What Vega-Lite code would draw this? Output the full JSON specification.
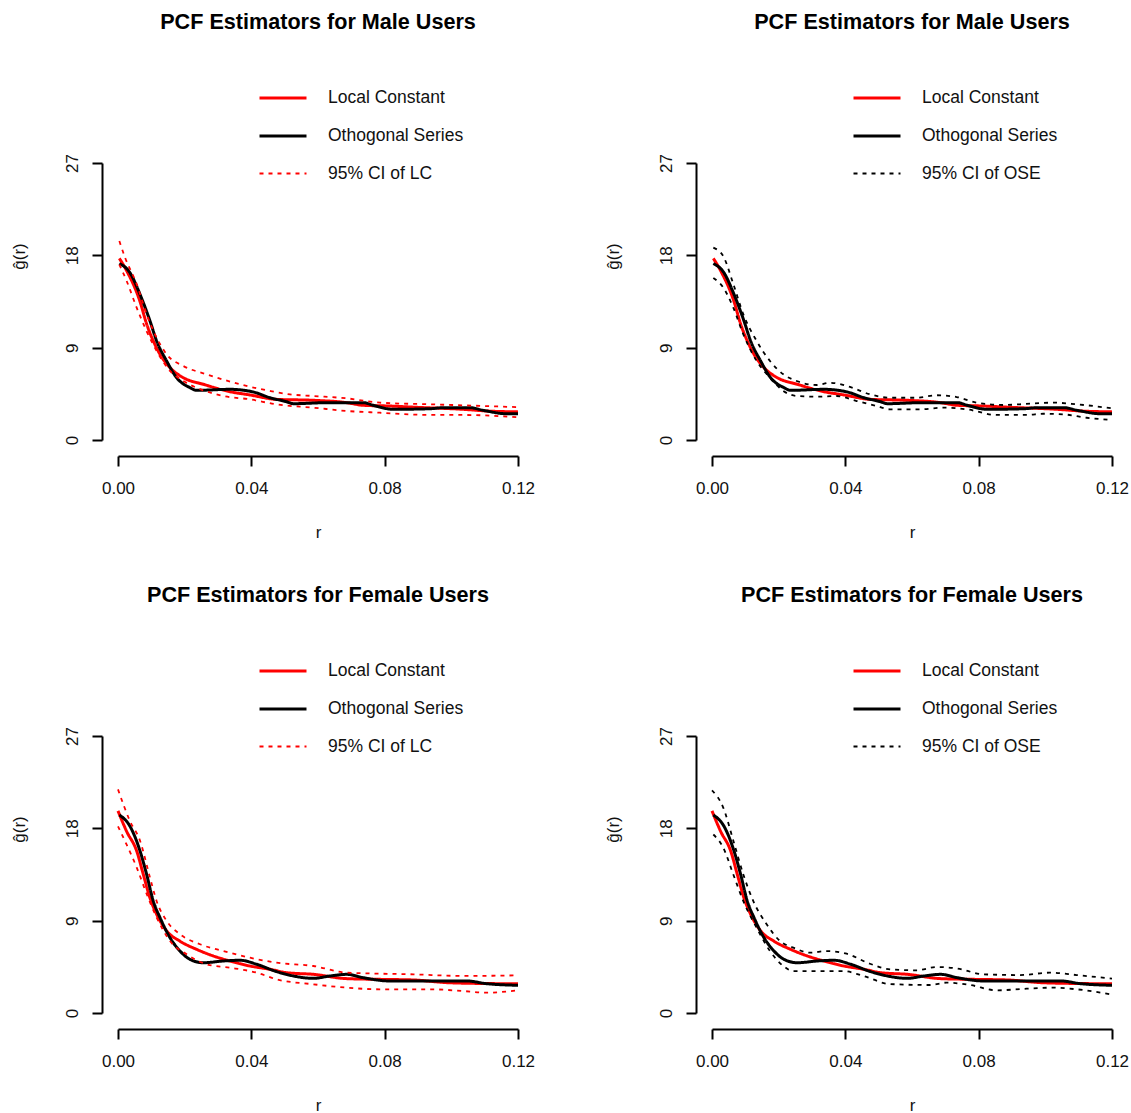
{
"$schema": "https://vega.github.io/schema/vega-lite/v6.json",
"background": "white",
"padding": {"left": 10, "top": 12, "right": 0, "bottom": 0},
"config": {
  "view": {"stroke": null},
  "font": "Liberation Sans",
  "title": {"font": "Liberation Sans", "fontSize": 21.6, "fontWeight": "bold", "color": "black", "anchor": "middle", "frame": "group", "offset": 39},
  "axis": {"domainColor": "black", "domainWidth": 2, "tickColor": "black", "tickWidth": 2, "tickSize": 10, "labelFont": "Liberation Sans", "labelFontSize": 17, "labelColor": "#111111", "titleFont": "Liberation Sans", "titleFontSize": 17, "titleFontWeight": "normal", "titleColor": "#111111", "grid": false, "offset": 16, "labelFlush": false, "labelOverlap": false},
  "axisX": {"labelPadding": 14, "titleY": 81, "titleBaseline": "alphabetic"},
  "axisY": {"labelAngle": 270, "labelAlign": "center", "labelBaseline": "bottom", "labelPadding": 11, "titleX": -83, "titleY": 93, "titleAngle": 270, "titleAlign": "center", "titleBaseline": "middle"},
  "legend": {"title": null, "orient": "none", "legendX": 140, "legendY": -90, "labelFont": "Liberation Sans", "labelFontSize": 17.5, "labelColor": "#111111", "symbolType": "stroke", "symbolSize": 2209, "labelOffset": 20, "rowPadding": 4}
},
"data": {"values": [
{"p":"M","s":"Local Constant","b":"est","r":0.0004,"g":17.7},{"p":"M","s":"Local Constant","b":"est","r":0.0026,"g":16.5},{"p":"M","s":"Local Constant","b":"est","r":0.0066,"g":13.5},{"p":"M","s":"Local Constant","b":"est","r":0.0086,"g":11.3},{"p":"M","s":"Local Constant","b":"est","r":0.0106,"g":9.65},{"p":"M","s":"Local Constant","b":"est","r":0.0126,"g":8.35},{"p":"M","s":"Local Constant","b":"est","r":0.0156,"g":7.05},{"p":"M","s":"Local Constant","b":"est","r":0.0196,"g":6.07},{"p":"M","s":"Local Constant","b":"est","r":0.0256,"g":5.43},{"p":"M","s":"Local Constant","b":"est","r":0.0336,"g":4.71},{"p":"M","s":"Local Constant","b":"est","r":0.0396,"g":4.39},{"p":"M","s":"Local Constant","b":"est","r":0.0476,"g":3.96},{"p":"M","s":"Local Constant","b":"est","r":0.0586,"g":3.87},{"p":"M","s":"Local Constant","b":"est","r":0.0686,"g":3.64},{"p":"M","s":"Local Constant","b":"est","r":0.0736,"g":3.38},{"p":"M","s":"Local Constant","b":"est","r":0.0816,"g":3.31},{"p":"M","s":"Local Constant","b":"est","r":0.0886,"g":3.2},{"p":"M","s":"Local Constant","b":"est","r":0.1036,"g":2.99},{"p":"M","s":"Local Constant","b":"est","r":0.1106,"g":2.83},{"p":"M","s":"Local Constant","b":"est","r":0.12,"g":2.74},
{"p":"M","s":"Othogonal Series","b":"est","r":0.0004,"g":17.2},{"p":"M","s":"Othogonal Series","b":"est","r":0.0036,"g":16.3},{"p":"M","s":"Othogonal Series","b":"est","r":0.0066,"g":14.2},{"p":"M","s":"Othogonal Series","b":"est","r":0.0096,"g":11.6},{"p":"M","s":"Othogonal Series","b":"est","r":0.0116,"g":9.65},{"p":"M","s":"Othogonal Series","b":"est","r":0.0146,"g":7.7},{"p":"M","s":"Othogonal Series","b":"est","r":0.0176,"g":6.07},{"p":"M","s":"Othogonal Series","b":"est","r":0.0216,"g":5.1},{"p":"M","s":"Othogonal Series","b":"est","r":0.0236,"g":4.84},{"p":"M","s":"Othogonal Series","b":"est","r":0.0336,"g":4.94},{"p":"M","s":"Othogonal Series","b":"est","r":0.0406,"g":4.68},{"p":"M","s":"Othogonal Series","b":"est","r":0.0456,"g":4.12},{"p":"M","s":"Othogonal Series","b":"est","r":0.0506,"g":3.73},{"p":"M","s":"Othogonal Series","b":"est","r":0.0526,"g":3.54},{"p":"M","s":"Othogonal Series","b":"est","r":0.0631,"g":3.64},{"p":"M","s":"Othogonal Series","b":"est","r":0.0736,"g":3.64},{"p":"M","s":"Othogonal Series","b":"est","r":0.0766,"g":3.38},{"p":"M","s":"Othogonal Series","b":"est","r":0.0826,"g":2.99},{"p":"M","s":"Othogonal Series","b":"est","r":0.0936,"g":3.05},{"p":"M","s":"Othogonal Series","b":"est","r":0.0976,"g":3.15},{"p":"M","s":"Othogonal Series","b":"est","r":0.1056,"g":3.15},{"p":"M","s":"Othogonal Series","b":"est","r":0.1096,"g":2.89},{"p":"M","s":"Othogonal Series","b":"est","r":0.1166,"g":2.56},{"p":"M","s":"Othogonal Series","b":"est","r":0.12,"g":2.56},
{"p":"M","s":"95% CI of LC","b":"hi","r":0.0004,"g":19.4},{"p":"M","s":"95% CI of LC","b":"hi","r":0.0021,"g":17.8},{"p":"M","s":"95% CI of LC","b":"hi","r":0.0056,"g":15.2},{"p":"M","s":"95% CI of LC","b":"hi","r":0.0086,"g":12.25},{"p":"M","s":"95% CI of LC","b":"hi","r":0.0116,"g":9.97},{"p":"M","s":"95% CI of LC","b":"hi","r":0.0146,"g":8.35},{"p":"M","s":"95% CI of LC","b":"hi","r":0.0196,"g":7.21},{"p":"M","s":"95% CI of LC","b":"hi","r":0.0266,"g":6.4},{"p":"M","s":"95% CI of LC","b":"hi","r":0.0366,"g":5.43},{"p":"M","s":"95% CI of LC","b":"hi","r":0.0456,"g":4.78},{"p":"M","s":"95% CI of LC","b":"hi","r":0.0516,"g":4.45},{"p":"M","s":"95% CI of LC","b":"hi","r":0.0586,"g":4.29},{"p":"M","s":"95% CI of LC","b":"hi","r":0.0686,"g":4.06},{"p":"M","s":"95% CI of LC","b":"hi","r":0.0786,"g":3.64},{"p":"M","s":"95% CI of LC","b":"hi","r":0.0936,"g":3.48},{"p":"M","s":"95% CI of LC","b":"hi","r":0.1036,"g":3.38},{"p":"M","s":"95% CI of LC","b":"hi","r":0.12,"g":3.2},
{"p":"M","s":"95% CI of LC","b":"lo","r":0.0004,"g":17.1},{"p":"M","s":"95% CI of LC","b":"lo","r":0.0026,"g":15.5},{"p":"M","s":"95% CI of LC","b":"lo","r":0.0056,"g":12.9},{"p":"M","s":"95% CI of LC","b":"lo","r":0.0086,"g":10.6},{"p":"M","s":"95% CI of LC","b":"lo","r":0.0116,"g":8.67},{"p":"M","s":"95% CI of LC","b":"lo","r":0.0156,"g":6.73},{"p":"M","s":"95% CI of LC","b":"lo","r":0.0196,"g":5.75},{"p":"M","s":"95% CI of LC","b":"lo","r":0.0256,"g":4.84},{"p":"M","s":"95% CI of LC","b":"lo","r":0.0316,"g":4.29},{"p":"M","s":"95% CI of LC","b":"lo","r":0.0396,"g":3.96},{"p":"M","s":"95% CI of LC","b":"lo","r":0.0476,"g":3.47},{"p":"M","s":"95% CI of LC","b":"lo","r":0.0586,"g":3.15},{"p":"M","s":"95% CI of LC","b":"lo","r":0.0686,"g":2.83},{"p":"M","s":"95% CI of LC","b":"lo","r":0.0786,"g":2.66},{"p":"M","s":"95% CI of LC","b":"lo","r":0.0936,"g":2.44},{"p":"M","s":"95% CI of LC","b":"lo","r":0.1036,"g":2.44},{"p":"M","s":"95% CI of LC","b":"lo","r":0.12,"g":2.22},
{"p":"M","s":"95% CI of OSE","b":"hi","r":0.0004,"g":18.75},{"p":"M","s":"95% CI of OSE","b":"hi","r":0.0034,"g":17.9},{"p":"M","s":"95% CI of OSE","b":"hi","r":0.0064,"g":15.2},{"p":"M","s":"95% CI of OSE","b":"hi","r":0.0094,"g":12.25},{"p":"M","s":"95% CI of OSE","b":"hi","r":0.0134,"g":9.65},{"p":"M","s":"95% CI of OSE","b":"hi","r":0.0174,"g":7.7},{"p":"M","s":"95% CI of OSE","b":"hi","r":0.0214,"g":6.4},{"p":"M","s":"95% CI of OSE","b":"hi","r":0.0254,"g":5.75},{"p":"M","s":"95% CI of OSE","b":"hi","r":0.0314,"g":5.36},{"p":"M","s":"95% CI of OSE","b":"hi","r":0.0354,"g":5.58},{"p":"M","s":"95% CI of OSE","b":"hi","r":0.0414,"g":5.17},{"p":"M","s":"95% CI of OSE","b":"hi","r":0.0474,"g":4.45},{"p":"M","s":"95% CI of OSE","b":"hi","r":0.0534,"g":4.12},{"p":"M","s":"95% CI of OSE","b":"hi","r":0.0614,"g":4.12},{"p":"M","s":"95% CI of OSE","b":"hi","r":0.0674,"g":4.36},{"p":"M","s":"95% CI of OSE","b":"hi","r":0.0734,"g":4.19},{"p":"M","s":"95% CI of OSE","b":"hi","r":0.0794,"g":3.64},{"p":"M","s":"95% CI of OSE","b":"hi","r":0.0874,"g":3.41},{"p":"M","s":"95% CI of OSE","b":"hi","r":0.0924,"g":3.48},{"p":"M","s":"95% CI of OSE","b":"hi","r":0.1024,"g":3.64},{"p":"M","s":"95% CI of OSE","b":"hi","r":0.1094,"g":3.48},{"p":"M","s":"95% CI of OSE","b":"hi","r":0.12,"g":3.09},
{"p":"M","s":"95% CI of OSE","b":"lo","r":0.0004,"g":15.8},{"p":"M","s":"95% CI of OSE","b":"lo","r":0.0034,"g":14.85},{"p":"M","s":"95% CI of OSE","b":"lo","r":0.0064,"g":12.9},{"p":"M","s":"95% CI of OSE","b":"lo","r":0.0094,"g":10.3},{"p":"M","s":"95% CI of OSE","b":"lo","r":0.0134,"g":7.7},{"p":"M","s":"95% CI of OSE","b":"lo","r":0.0174,"g":6.07},{"p":"M","s":"95% CI of OSE","b":"lo","r":0.0214,"g":4.78},{"p":"M","s":"95% CI of OSE","b":"lo","r":0.0254,"g":4.29},{"p":"M","s":"95% CI of OSE","b":"lo","r":0.0314,"g":4.22},{"p":"M","s":"95% CI of OSE","b":"lo","r":0.0374,"g":4.29},{"p":"M","s":"95% CI of OSE","b":"lo","r":0.0434,"g":3.8},{"p":"M","s":"95% CI of OSE","b":"lo","r":0.0494,"g":3.31},{"p":"M","s":"95% CI of OSE","b":"lo","r":0.0534,"g":2.99},{"p":"M","s":"95% CI of OSE","b":"lo","r":0.0624,"g":2.99},{"p":"M","s":"95% CI of OSE","b":"lo","r":0.0694,"g":3.15},{"p":"M","s":"95% CI of OSE","b":"lo","r":0.0764,"g":2.99},{"p":"M","s":"95% CI of OSE","b":"lo","r":0.0854,"g":2.44},{"p":"M","s":"95% CI of OSE","b":"lo","r":0.0944,"g":2.44},{"p":"M","s":"95% CI of OSE","b":"lo","r":0.0994,"g":2.56},{"p":"M","s":"95% CI of OSE","b":"lo","r":0.1054,"g":2.5},{"p":"M","s":"95% CI of OSE","b":"lo","r":0.1124,"g":2.17},{"p":"M","s":"95% CI of OSE","b":"lo","r":0.12,"g":1.95},
{"p":"F","s":"Local Constant","b":"est","r":0.0,"g":19.7},{"p":"F","s":"Local Constant","b":"est","r":0.0026,"g":17.7},{"p":"F","s":"Local Constant","b":"est","r":0.0056,"g":15.8},{"p":"F","s":"Local Constant","b":"est","r":0.0076,"g":13.5},{"p":"F","s":"Local Constant","b":"est","r":0.0096,"g":11.2},{"p":"F","s":"Local Constant","b":"est","r":0.0116,"g":9.62},{"p":"F","s":"Local Constant","b":"est","r":0.0146,"g":8.0},{"p":"F","s":"Local Constant","b":"est","r":0.0186,"g":7.0},{"p":"F","s":"Local Constant","b":"est","r":0.0236,"g":6.2},{"p":"F","s":"Local Constant","b":"est","r":0.0286,"g":5.56},{"p":"F","s":"Local Constant","b":"est","r":0.0336,"g":5.07},{"p":"F","s":"Local Constant","b":"est","r":0.0396,"g":4.58},{"p":"F","s":"Local Constant","b":"est","r":0.0456,"g":4.26},{"p":"F","s":"Local Constant","b":"est","r":0.0506,"g":3.93},{"p":"F","s":"Local Constant","b":"est","r":0.0586,"g":3.77},{"p":"F","s":"Local Constant","b":"est","r":0.0686,"g":3.35},{"p":"F","s":"Local Constant","b":"est","r":0.0786,"g":3.28},{"p":"F","s":"Local Constant","b":"est","r":0.0886,"g":3.22},{"p":"F","s":"Local Constant","b":"est","r":0.0986,"g":2.96},{"p":"F","s":"Local Constant","b":"est","r":0.1066,"g":2.89},{"p":"F","s":"Local Constant","b":"est","r":0.12,"g":2.85},
{"p":"F","s":"Othogonal Series","b":"est","r":0.0004,"g":19.3},{"p":"F","s":"Othogonal Series","b":"est","r":0.0036,"g":18.2},{"p":"F","s":"Othogonal Series","b":"est","r":0.0066,"g":15.8},{"p":"F","s":"Othogonal Series","b":"est","r":0.0086,"g":13.5},{"p":"F","s":"Othogonal Series","b":"est","r":0.0106,"g":10.9},{"p":"F","s":"Othogonal Series","b":"est","r":0.0126,"g":9.3},{"p":"F","s":"Othogonal Series","b":"est","r":0.0156,"g":7.34},{"p":"F","s":"Othogonal Series","b":"est","r":0.0186,"g":6.04},{"p":"F","s":"Othogonal Series","b":"est","r":0.0216,"g":5.23},{"p":"F","s":"Othogonal Series","b":"est","r":0.0256,"g":4.9},{"p":"F","s":"Othogonal Series","b":"est","r":0.0316,"g":5.07},{"p":"F","s":"Othogonal Series","b":"est","r":0.0366,"g":5.14},{"p":"F","s":"Othogonal Series","b":"est","r":0.0416,"g":4.75},{"p":"F","s":"Othogonal Series","b":"est","r":0.0476,"g":4.03},{"p":"F","s":"Othogonal Series","b":"est","r":0.0526,"g":3.61},{"p":"F","s":"Othogonal Series","b":"est","r":0.0586,"g":3.38},{"p":"F","s":"Othogonal Series","b":"est","r":0.0636,"g":3.61},{"p":"F","s":"Othogonal Series","b":"est","r":0.0686,"g":3.77},{"p":"F","s":"Othogonal Series","b":"est","r":0.0736,"g":3.44},{"p":"F","s":"Othogonal Series","b":"est","r":0.0816,"g":3.12},{"p":"F","s":"Othogonal Series","b":"est","r":0.0936,"g":3.12},{"p":"F","s":"Othogonal Series","b":"est","r":0.1046,"g":3.12},{"p":"F","s":"Othogonal Series","b":"est","r":0.1106,"g":2.86},{"p":"F","s":"Othogonal Series","b":"est","r":0.12,"g":2.7},
{"p":"F","s":"95% CI of LC","b":"hi","r":0.0,"g":21.8},{"p":"F","s":"95% CI of LC","b":"hi","r":0.0036,"g":18.7},{"p":"F","s":"95% CI of LC","b":"hi","r":0.0066,"g":16.8},{"p":"F","s":"95% CI of LC","b":"hi","r":0.0096,"g":13.2},{"p":"F","s":"95% CI of LC","b":"hi","r":0.0116,"g":10.9},{"p":"F","s":"95% CI of LC","b":"hi","r":0.0146,"g":8.97},{"p":"F","s":"95% CI of LC","b":"hi","r":0.0186,"g":7.67},{"p":"F","s":"95% CI of LC","b":"hi","r":0.0246,"g":6.7},{"p":"F","s":"95% CI of LC","b":"hi","r":0.0316,"g":6.04},{"p":"F","s":"95% CI of LC","b":"hi","r":0.0396,"g":5.39},{"p":"F","s":"95% CI of LC","b":"hi","r":0.0476,"g":4.9},{"p":"F","s":"95% CI of LC","b":"hi","r":0.0586,"g":4.58},{"p":"F","s":"95% CI of LC","b":"hi","r":0.0686,"g":3.93},{"p":"F","s":"95% CI of LC","b":"hi","r":0.0886,"g":3.77},{"p":"F","s":"95% CI of LC","b":"hi","r":0.1036,"g":3.61},{"p":"F","s":"95% CI of LC","b":"hi","r":0.12,"g":3.67},
{"p":"F","s":"95% CI of LC","b":"lo","r":0.0,"g":18.2},{"p":"F","s":"95% CI of LC","b":"lo","r":0.0026,"g":16.4},{"p":"F","s":"95% CI of LC","b":"lo","r":0.0056,"g":14.2},{"p":"F","s":"95% CI of LC","b":"lo","r":0.0086,"g":11.6},{"p":"F","s":"95% CI of LC","b":"lo","r":0.0116,"g":9.3},{"p":"F","s":"95% CI of LC","b":"lo","r":0.0156,"g":7.02},{"p":"F","s":"95% CI of LC","b":"lo","r":0.0206,"g":5.72},{"p":"F","s":"95% CI of LC","b":"lo","r":0.0266,"g":4.75},{"p":"F","s":"95% CI of LC","b":"lo","r":0.0336,"g":4.42},{"p":"F","s":"95% CI of LC","b":"lo","r":0.0416,"g":3.93},{"p":"F","s":"95% CI of LC","b":"lo","r":0.0476,"g":3.28},{"p":"F","s":"95% CI of LC","b":"lo","r":0.0586,"g":2.8},{"p":"F","s":"95% CI of LC","b":"lo","r":0.0686,"g":2.47},{"p":"F","s":"95% CI of LC","b":"lo","r":0.0786,"g":2.31},{"p":"F","s":"95% CI of LC","b":"lo","r":0.0936,"g":2.31},{"p":"F","s":"95% CI of LC","b":"lo","r":0.1036,"g":2.14},{"p":"F","s":"95% CI of LC","b":"lo","r":0.1106,"g":1.98},{"p":"F","s":"95% CI of LC","b":"lo","r":0.12,"g":2.21},
{"p":"F","s":"95% CI of OSE","b":"hi","r":0.0,"g":21.7},{"p":"F","s":"95% CI of OSE","b":"hi","r":0.0034,"g":20.0},{"p":"F","s":"95% CI of OSE","b":"hi","r":0.0064,"g":16.8},{"p":"F","s":"95% CI of OSE","b":"hi","r":0.0094,"g":13.5},{"p":"F","s":"95% CI of OSE","b":"hi","r":0.0124,"g":10.9},{"p":"F","s":"95% CI of OSE","b":"hi","r":0.0164,"g":8.65},{"p":"F","s":"95% CI of OSE","b":"hi","r":0.0204,"g":7.02},{"p":"F","s":"95% CI of OSE","b":"hi","r":0.0244,"g":6.37},{"p":"F","s":"95% CI of OSE","b":"hi","r":0.0294,"g":5.88},{"p":"F","s":"95% CI of OSE","b":"hi","r":0.0344,"g":6.04},{"p":"F","s":"95% CI of OSE","b":"hi","r":0.0404,"g":5.78},{"p":"F","s":"95% CI of OSE","b":"hi","r":0.0474,"g":4.8},{"p":"F","s":"95% CI of OSE","b":"hi","r":0.0534,"g":4.26},{"p":"F","s":"95% CI of OSE","b":"hi","r":0.0614,"g":4.16},{"p":"F","s":"95% CI of OSE","b":"hi","r":0.0674,"g":4.48},{"p":"F","s":"95% CI of OSE","b":"hi","r":0.0734,"g":4.35},{"p":"F","s":"95% CI of OSE","b":"hi","r":0.0814,"g":3.77},{"p":"F","s":"95% CI of OSE","b":"hi","r":0.0924,"g":3.7},{"p":"F","s":"95% CI of OSE","b":"hi","r":0.1014,"g":3.93},{"p":"F","s":"95% CI of OSE","b":"hi","r":0.1094,"g":3.7},{"p":"F","s":"95% CI of OSE","b":"hi","r":0.12,"g":3.35},
{"p":"F","s":"95% CI of OSE","b":"lo","r":0.0004,"g":17.4},{"p":"F","s":"95% CI of OSE","b":"lo","r":0.0034,"g":16.1},{"p":"F","s":"95% CI of OSE","b":"lo","r":0.0064,"g":13.5},{"p":"F","s":"95% CI of OSE","b":"lo","r":0.0094,"g":10.9},{"p":"F","s":"95% CI of OSE","b":"lo","r":0.0134,"g":8.3},{"p":"F","s":"95% CI of OSE","b":"lo","r":0.0174,"g":6.04},{"p":"F","s":"95% CI of OSE","b":"lo","r":0.0214,"g":4.58},{"p":"F","s":"95% CI of OSE","b":"lo","r":0.0244,"g":4.09},{"p":"F","s":"95% CI of OSE","b":"lo","r":0.0334,"g":4.09},{"p":"F","s":"95% CI of OSE","b":"lo","r":0.0394,"g":4.09},{"p":"F","s":"95% CI of OSE","b":"lo","r":0.0454,"g":3.61},{"p":"F","s":"95% CI of OSE","b":"lo","r":0.0534,"g":2.82},{"p":"F","s":"95% CI of OSE","b":"lo","r":0.0654,"g":2.73},{"p":"F","s":"95% CI of OSE","b":"lo","r":0.0704,"g":2.96},{"p":"F","s":"95% CI of OSE","b":"lo","r":0.0774,"g":2.73},{"p":"F","s":"95% CI of OSE","b":"lo","r":0.0854,"g":2.21},{"p":"F","s":"95% CI of OSE","b":"lo","r":0.0944,"g":2.37},{"p":"F","s":"95% CI of OSE","b":"lo","r":0.1024,"g":2.47},{"p":"F","s":"95% CI of OSE","b":"lo","r":0.1094,"g":2.31},{"p":"F","s":"95% CI of OSE","b":"lo","r":0.12,"g":1.8}
]},
"columns": 2,
"bounds": "flush",
"spacing": {"row": 296, "column": 194},
"concat": [
 {"title": "PCF Estimators for Male Users", "width": 400, "height": 277,
  "transform": [{"filter": "datum.p == 'M' && datum.s != '95% CI of OSE'"}],
  "mark": {"type": "line", "interpolate": "monotone", "clip": false},
  "encoding": {
   "x": {"field": "r", "type": "quantitative", "scale": {"domain": [0, 0.12], "nice": false, "zero": false}, "axis": {"values": [0, 0.04, 0.08, 0.12], "format": ".2f", "title": "r"}},
   "y": {"field": "g", "type": "quantitative", "scale": {"domain": [0, 27], "nice": false}, "axis": {"values": [0, 9, 18, 27], "title": "ĝ(r)"}},
   "color": {"field": "s", "type": "nominal", "scale": {"domain": ["Local Constant", "Othogonal Series", "95% CI of LC"], "range": ["#FF0000", "#000000", "#FF0000"]}},
   "strokeDash": {"field": "s", "type": "nominal", "scale": {"domain": ["Local Constant", "Othogonal Series", "95% CI of LC"], "range": [[1, 0], [1, 0], [4, 5]]}},
   "strokeWidth": {"field": "s", "type": "nominal", "scale": {"type": "ordinal", "domain": ["Local Constant", "Othogonal Series", "95% CI of LC"], "range": [3, 3, 1.8]}},
   "detail": {"field": "b"}
  }},
 {"title": "PCF Estimators for Male Users", "width": 400, "height": 277,
  "transform": [{"filter": "datum.p == 'M' && datum.s != '95% CI of LC'"}],
  "mark": {"type": "line", "interpolate": "monotone", "clip": false},
  "encoding": {
   "x": {"field": "r", "type": "quantitative", "scale": {"domain": [0, 0.12], "nice": false, "zero": false}, "axis": {"values": [0, 0.04, 0.08, 0.12], "format": ".2f", "title": "r"}},
   "y": {"field": "g", "type": "quantitative", "scale": {"domain": [0, 27], "nice": false}, "axis": {"values": [0, 9, 18, 27], "title": "ĝ(r)"}},
   "color": {"field": "s", "type": "nominal", "scale": {"domain": ["Local Constant", "Othogonal Series", "95% CI of OSE"], "range": ["#FF0000", "#000000", "#000000"]}},
   "strokeDash": {"field": "s", "type": "nominal", "scale": {"domain": ["Local Constant", "Othogonal Series", "95% CI of OSE"], "range": [[1, 0], [1, 0], [4, 5]]}},
   "strokeWidth": {"field": "s", "type": "nominal", "scale": {"type": "ordinal", "domain": ["Local Constant", "Othogonal Series", "95% CI of OSE"], "range": [3, 3, 1.8]}},
   "detail": {"field": "b"}
  }},
 {"title": "PCF Estimators for Female Users", "width": 400, "height": 277,
  "transform": [{"filter": "datum.p == 'F' && datum.s != '95% CI of OSE'"}],
  "mark": {"type": "line", "interpolate": "monotone", "clip": false},
  "encoding": {
   "x": {"field": "r", "type": "quantitative", "scale": {"domain": [0, 0.12], "nice": false, "zero": false}, "axis": {"values": [0, 0.04, 0.08, 0.12], "format": ".2f", "title": "r"}},
   "y": {"field": "g", "type": "quantitative", "scale": {"domain": [0, 27], "nice": false}, "axis": {"values": [0, 9, 18, 27], "title": "ĝ(r)"}},
   "color": {"field": "s", "type": "nominal", "scale": {"domain": ["Local Constant", "Othogonal Series", "95% CI of LC"], "range": ["#FF0000", "#000000", "#FF0000"]}},
   "strokeDash": {"field": "s", "type": "nominal", "scale": {"domain": ["Local Constant", "Othogonal Series", "95% CI of LC"], "range": [[1, 0], [1, 0], [4, 5]]}},
   "strokeWidth": {"field": "s", "type": "nominal", "scale": {"type": "ordinal", "domain": ["Local Constant", "Othogonal Series", "95% CI of LC"], "range": [3, 3, 1.8]}},
   "detail": {"field": "b"}
  }},
 {"title": "PCF Estimators for Female Users", "width": 400, "height": 277,
  "transform": [{"filter": "datum.p == 'F' && datum.s != '95% CI of LC'"}],
  "mark": {"type": "line", "interpolate": "monotone", "clip": false},
  "encoding": {
   "x": {"field": "r", "type": "quantitative", "scale": {"domain": [0, 0.12], "nice": false, "zero": false}, "axis": {"values": [0, 0.04, 0.08, 0.12], "format": ".2f", "title": "r"}},
   "y": {"field": "g", "type": "quantitative", "scale": {"domain": [0, 27], "nice": false}, "axis": {"values": [0, 9, 18, 27], "title": "ĝ(r)"}},
   "color": {"field": "s", "type": "nominal", "scale": {"domain": ["Local Constant", "Othogonal Series", "95% CI of OSE"], "range": ["#FF0000", "#000000", "#000000"]}},
   "strokeDash": {"field": "s", "type": "nominal", "scale": {"domain": ["Local Constant", "Othogonal Series", "95% CI of OSE"], "range": [[1, 0], [1, 0], [4, 5]]}},
   "strokeWidth": {"field": "s", "type": "nominal", "scale": {"type": "ordinal", "domain": ["Local Constant", "Othogonal Series", "95% CI of OSE"], "range": [3, 3, 1.8]}},
   "detail": {"field": "b"}
  }}
],
"resolve": {"scale": {"color": "independent", "strokeDash": "independent", "strokeWidth": "independent"}, "legend": {"color": "independent", "strokeDash": "independent", "strokeWidth": "independent"}}
}
